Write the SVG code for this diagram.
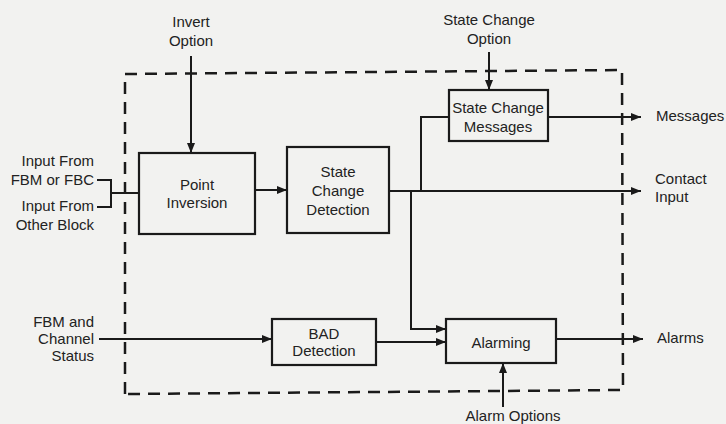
<svg xmlns="http://www.w3.org/2000/svg" width="726" height="424" viewBox="0 0 726 424">
<style>
text{font-family:"Liberation Sans",Arial,sans-serif;font-size:15px;fill:#222}
.box{fill:none;stroke:#1a1a1a;stroke-width:2.2}
.ln{fill:none;stroke:#1a1a1a;stroke-width:2}
.dash{fill:none;stroke:#1a1a1a;stroke-width:2.5;stroke-dasharray:12 8}
.c{text-anchor:middle}
.r{text-anchor:end}
</style>
<defs>
<marker id="ah" viewBox="0 0 10 8" refX="10" refY="4" markerWidth="10" markerHeight="8" markerUnits="userSpaceOnUse" orient="auto">
<path d="M0,0 L10,4 L0,8 Z" fill="#1a1a1a"/>
</marker>
</defs>
<rect width="726" height="424" fill="#f2f2f0"/>
<g id="boundary">
<path class="dash" d="M125,394 L125,74 L622,70 L623,390 Z"/>
</g>
<g id="connectors">
<path class="ln" marker-end="url(#ah)" d="M191,56 V153"/>
<path class="ln" marker-end="url(#ah)" d="M489,52 V90"/>
<path class="ln" d="M97,180 H111 V207 H97 M111,193 H139"/>
<path class="ln" marker-end="url(#ah)" d="M255,190 H287"/>
<path class="ln" marker-end="url(#ah)" d="M389,191 H641"/>
<path class="ln" d="M421,191 V117 H449"/>
<path class="ln" marker-end="url(#ah)" d="M411,191 V329 H446"/>
<path class="ln" marker-end="url(#ah)" d="M548,117 H641"/>
<path class="ln" marker-end="url(#ah)" d="M99,339 H272"/>
<path class="ln" marker-end="url(#ah)" d="M376,342 H446"/>
<path class="ln" marker-end="url(#ah)" d="M556,339 H643"/>
<path class="ln" marker-end="url(#ah)" d="M503,407 V363"/>
</g>
<g id="point-inversion">
<rect class="box" x="139" y="153" width="116" height="81"/>
<text class="c" x="197" y="190">Point</text>
<text class="c" x="197" y="208">Inversion</text>
</g>
<g id="state-change-detection">
<rect class="box" x="287" y="147" width="102" height="86"/>
<text class="c" x="338" y="177">State</text>
<text class="c" x="338" y="196">Change</text>
<text class="c" x="338" y="215">Detection</text>
</g>
<g id="state-change-messages">
<rect class="box" x="449" y="90" width="99" height="51"/>
<text class="c" x="498" y="113">State Change</text>
<text class="c" x="498" y="132">Messages</text>
</g>
<g id="bad-detection">
<rect class="box" x="272" y="319" width="104" height="46"/>
<text class="c" x="324" y="339">BAD</text>
<text class="c" x="324" y="356">Detection</text>
</g>
<g id="alarming">
<rect class="box" x="446" y="319" width="110" height="44"/>
<text class="c" x="501" y="348">Alarming</text>
</g>
<g id="labels">
<text class="c" x="191" y="27">Invert</text>
<text class="c" x="191" y="46">Option</text>
<text class="c" x="489" y="25">State Change</text>
<text class="c" x="489" y="44">Option</text>
<text class="r" x="94" y="166">Input From</text>
<text class="r" x="94" y="185">FBM or FBC</text>
<text class="r" x="94" y="211">Input From</text>
<text class="r" x="94" y="230">Other Block</text>
<text class="r" x="94" y="327">FBM and</text>
<text class="r" x="94" y="344">Channel</text>
<text class="r" x="94" y="361">Status</text>
<text x="656" y="121">Messages</text>
<text x="655" y="184">Contact</text>
<text x="655" y="202">Input</text>
<text x="657" y="343">Alarms</text>
<text class="c" x="513" y="421">Alarm Options</text>
</g>
</svg>
